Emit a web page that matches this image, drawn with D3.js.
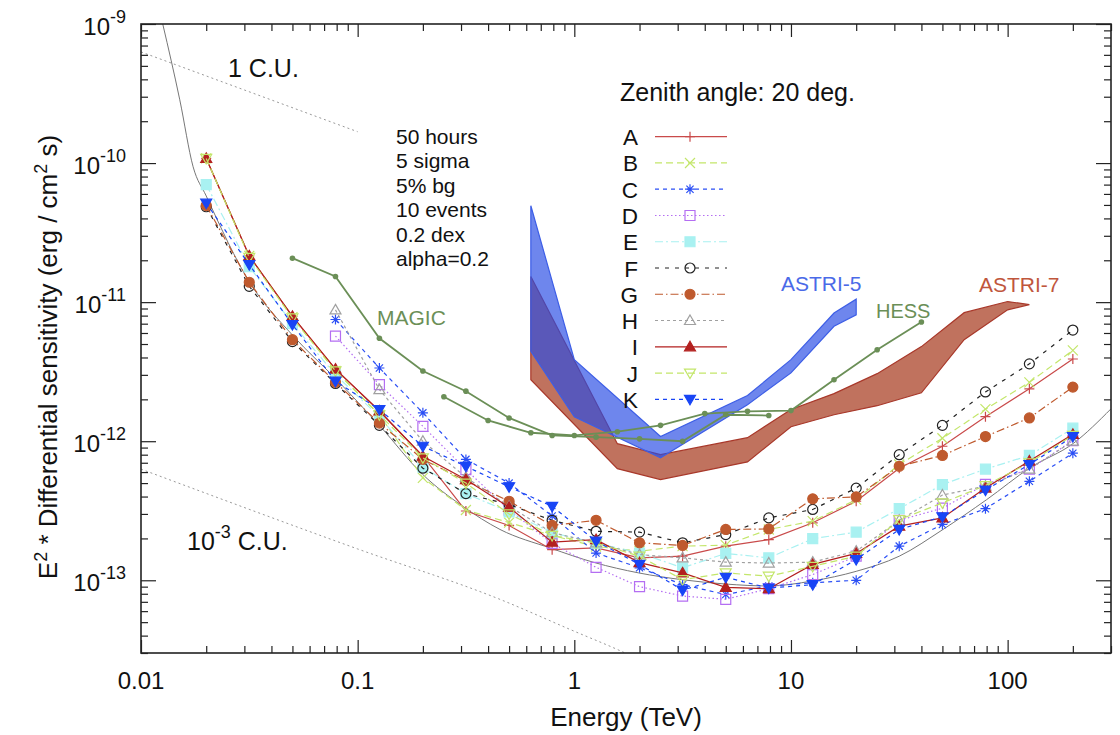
<!DOCTYPE html>
<html>
<head>
<meta charset="utf-8">
<script src="https://cdn.jsdelivr.net/npm/d3@7/dist/d3.min.js"></script>
<style>
body { margin:0; background:#fff; }
text { font-family:"Liberation Sans", Arial, Helvetica, sans-serif; }
</style>
</head>
<body>
<div id="chart"></div>
<script>
// ---------------- data ----------------
var energies = [0.02, 0.0316, 0.05, 0.079, 0.126, 0.2, 0.316, 0.5, 0.79, 1.26, 2, 3.16, 5, 7.9, 12.6, 20, 31.6, 50, 79, 126, 200];

var seriesA = [1.08e-10, 2.15e-11, 7.9e-12, 3.3e-12, 1.65e-12, 7.8e-13, 3.15e-13, 2.48e-13, 1.66e-13, 1.71e-13, 1.45e-13, 1.49e-13, 1.76e-13, 1.96e-13, 2.59e-13, 3.7e-13, 6.4e-13, 9.2e-13, 1.5e-12, 2.38e-12, 3.9e-12];
var seriesB = [1.08e-10, 2.15e-11, 7.8e-12, 3.2e-12, 1.55e-12, 5.45e-13, 3.2e-13, 2.6e-13, 2.1e-13, 1.75e-13, 1.62e-13, 1.76e-13, 1.79e-13, 2.32e-13, 2.66e-13, 3.8e-13, 6.8e-13, 1.05e-12, 1.7e-12, 2.65e-12, 4.5e-12];
var seriesC = [null, null, null, 7.5e-12, 3.36e-12, 1.6e-12, 7.4e-13, 5.0e-13, 2.9e-13, 1.57e-13, 1.23e-13, 9.3e-14, 7.9e-14, 9.1e-14, 9.6e-14, 1.0e-13, 1.76e-13, 2.52e-13, 3.27e-13, 5.15e-13, 8.2e-13];
var seriesD = [null, null, null, 5.7e-12, 2.55e-12, 1.28e-12, 6.25e-13, 3.2e-13, 1.84e-13, 1.24e-13, 9.0e-14, 7.7e-14, 7.3e-14, 8.7e-14, 1.1e-13, 1.49e-13, 2.7e-13, 3.3e-13, 4.9e-13, 6.3e-13, 1.01e-12];
var seriesE = [7e-11, 1.8e-11, 7e-12, 3e-12, 1.5e-12, 6.5e-13, 4.2e-13, 3.1e-13, 2.2e-13, 1.85e-13, 1.57e-13, 1.23e-13, 1.56e-13, 1.45e-13, 1.99e-13, 2.22e-13, 3.27e-13, 4.88e-13, 6.3e-13, 7.9e-13, 1.24e-12];
var seriesF = [4.85e-11, 1.3e-11, 5.2e-12, 2.6e-12, 1.3e-12, 6.4e-13, 4.2e-13, 3.5e-13, 2.7e-13, 2.25e-13, 2.22e-13, 1.86e-13, 2.13e-13, 2.81e-13, 3.23e-13, 4.6e-13, 8.0e-13, 1.3e-12, 2.26e-12, 3.6e-12, 6.3e-12];
var seriesG = [4.95e-11, 1.39e-11, 5.37e-12, 2.65e-12, 1.35e-12, 7.4e-13, 5.2e-13, 3.7e-13, 2.48e-13, 2.7e-13, 1.86e-13, 1.78e-13, 2.32e-13, 2.34e-13, 3.85e-13, 3.98e-13, 6.6e-13, 7.9e-13, 1.08e-12, 1.47e-12, 2.45e-12];
var seriesH = [null, null, null, 8.8e-12, 2.35e-12, 1.0e-12, 5.5e-13, 3.4e-13, 2.2e-13, 1.86e-13, 1.53e-13, 1.45e-13, 1.35e-13, 1.33e-13, 1.35e-13, 1.62e-13, 2.7e-13, 4.1e-13, 4.75e-13, 6.3e-13, 1.0e-12];
var seriesI = [1.08e-10, 2.15e-11, 7.9e-12, 3.3e-12, 1.65e-12, 7.8e-13, 5.3e-13, 3.35e-13, 1.88e-13, 1.96e-13, 1.34e-13, 1.13e-13, 8.9e-14, 8.7e-14, 1.3e-13, 1.56e-13, 2.45e-13, 2.81e-13, 4.6e-13, 7.2e-13, 1.12e-12];
var seriesJ = [1.08e-10, 2.1e-11, 7.7e-12, 3.2e-12, 1.55e-12, 7.6e-13, 5.0e-13, 3.0e-13, 2.1e-13, 1.85e-13, 1.49e-13, 1.01e-13, 1.13e-13, 1.07e-13, 1.26e-13, 1.49e-13, 2.73e-13, 3.6e-13, 4.8e-13, 7.0e-13, 1.1e-12];
var seriesK = [5.15e-11, 1.86e-11, 6.9e-12, 2.7e-12, 1.69e-12, 9.2e-13, 6.6e-13, 4.7e-13, 3.4e-13, 1.91e-13, 1.3e-13, 8.5e-14, 1.05e-13, 8.8e-14, 9.3e-14, 1.41e-13, 2.32e-13, 2.86e-13, 4.45e-13, 6.8e-13, 1.08e-12];

var seriesNames = ['A','B','C','D','E','F','G','H','I','J','K'];

// MAGIC and HESS
var magicE = [0.05, 0.079, 0.126, 0.2, 0.316, 0.5, 0.79, 1.26, 2, 3.16, 5, 7.9];
var magicFlux = [2.07e-11, 1.53e-11, 5.5e-12, 3.2e-12, 2.29e-12, 1.47e-12, 1.1e-12, 1.07e-12, 1.04e-12, 1.0e-12, 1.55e-12, 1.53e-12];
var hessE = [0.25, 0.4, 0.63, 1.0, 1.58, 2.5, 4, 6.3, 10, 15.8, 25, 40];
var hessFlux = [2.09e-12, 1.41e-12, 1.15e-12, 1.1e-12, 1.17e-12, 1.3e-12, 1.58e-12, 1.64e-12, 1.66e-12, 2.77e-12, 4.55e-12, 7.2e-12];

// ASTRI bands
var astri5E = [0.63, 1.0, 2.5, 6.3, 10, 15.8, 20];
var astri5Upper = [4.93e-11, 3.86e-12, 1.08e-12, 2.13e-12, 3.86e-12, 8.35e-12, 1.05e-11];
var astri5Lower = [4.43e-12, 1.5e-12, 7.6e-13, 1.83e-12, 3.1e-12, 6.7e-12, 8.1e-12];
var astri7E = [0.63, 1.58, 2.5, 6.3, 10, 15.8, 25, 40, 63, 100, 126];
var astri7Upper = [1.53e-11, 9.6e-13, 8.0e-13, 1.06e-12, 1.69e-12, 2.2e-12, 3.06e-12, 4.79e-12, 8.4e-12, 1.01e-11, 9.6e-12];
var astri7Lower = [2.77e-12, 6.35e-13, 5.3e-13, 7.1e-13, 1.27e-12, 1.55e-12, 1.8e-12, 2.23e-12, 5.37e-12, 8.8e-12, 9.6e-12];

// thin grey reference curve
var curveE = [0.0126, 0.0151, 0.0174, 0.02, 0.0318, 0.0505, 0.08, 0.127, 0.2, 0.306, 0.454, 0.78, 1.24, 1.98, 3.14, 4.98, 7.9, 12.6, 20, 31.6, 50.3, 80, 127, 202, 300];
var curveFlux = [1e-9, 2.85e-10, 9.4e-11, 5.8e-11, 1.38e-11, 5.7e-12, 2.77e-12, 1.28e-12, 5.75e-13, 3.4e-13, 2.32e-13, 1.7e-13, 1.34e-13, 1.13e-13, 1.01e-13, 9.4e-14, 9.1e-14, 9.9e-14, 1.16e-13, 1.49e-13, 2.32e-13, 3.8e-13, 6.45e-13, 9.7e-13, 1.71e-12];

// Crab unit
var crabE = [0.01, 0.1, 0.455, 1.0, 1.58, 3];
var crabFlux = [6.3e-10, 1.68e-10, 7.28e-11, 4.3e-11, 3.18e-11, 1.97e-11];

var infoLines = ['50 hours', '5 sigma', '5% bg', '10 events', '0.2 dex', 'alpha=0.2'];
var xTickLabels = [0.01, 0.1, 1, 10, 100];
var yTickExps = [-9, -10, -11, -12, -13];

// ---------------- styles ----------------
var styles = {
	A: {color:'#c94a4a', dash:null, marker:'plus'},
	B: {color:'#c3e66a', dash:'7,4', marker:'cross'},
	C: {color:'#2b4ff5', dash:'4,4', marker:'star'},
	D: {color:'#b46ef2', dash:'1.5,2.5', marker:'square'},
	E: {color:'#a9f1f1', dash:'8,3,2,3', marker:'squareFilled'},
	F: {color:'#222222', dash:'4,6', marker:'circle'},
	G: {color:'#bf5a2e', dash:'8,3,1.5,3', marker:'circleFilled'},
	H: {color:'#a0a0a0', dash:'3,3', marker:'triangle'},
	I: {color:'#b3201f', dash:null, marker:'triangleFilled'},
	J: {color:'#c3e66a', dash:'7,4', marker:'triangleDown'},
	K: {color:'#1845f5', dash:'4,4', marker:'triangleDownFilled'}
};

var svgWidth = 1120, svgHeight = 735;
var plot = {l:141, r:1111, t:24, b:653};

var svg = d3.select('#chart').append('svg')
	.attr('width', svgWidth)
	.attr('height', svgHeight)
	.style('background', '#fff');

var x = d3.scaleLog().domain([0.01, 300]).range([plot.l, plot.r]);
var y = d3.scaleLog().domain([3e-14, 1e-9]).range([plot.b, plot.t]);

svg.append('defs').append('clipPath').attr('id', 'clip')
	.append('rect').attr('x', plot.l).attr('y', plot.t)
	.attr('width', plot.r - plot.l).attr('height', plot.b - plot.t);

var plotArea = svg.append('g').attr('clip-path', 'url(#clip)');

function pts(es, vs) {
	return es.map((e, i) => [e, vs[i]]);
}

// crab unit lines
var crabLine = d3.line().x(d => x(d[0])).y(d => y(d[1])).curve(d3.curveMonotoneX);
plotArea.append('path')
	.attr('d', crabLine(pts(crabE.slice(0, 2), crabFlux.slice(0, 2))))
	.attr('fill', 'none').attr('stroke', '#999').attr('stroke-width', 1).attr('stroke-dasharray', '2,3');
plotArea.append('path')
	.attr('d', crabLine(pts(crabE, crabFlux.map(v => v * 1e-3))))
	.attr('fill', 'none').attr('stroke', '#999').attr('stroke-width', 1).attr('stroke-dasharray', '2,3');

// bands
function band(es, up, lo) {
	var p = es.map((e, i) => [x(e), y(up[i])]);
	var q = es.map((e, i) => [x(e), y(lo[i])]).reverse();
	return 'M' + p.concat(q).map(c => c.join(',')).join('L') + 'Z';
}
plotArea.append('path')
	.attr('d', band(astri7E, astri7Upper, astri7Lower))
	.attr('fill', '#bb6650').attr('fill-opacity', 0.92)
	.attr('stroke', '#a8382a').attr('stroke-width', 1.2);
plotArea.append('path')
	.attr('d', band(astri5E, astri5Upper, astri5Lower))
	.attr('fill', '#2a4ce4').attr('fill-opacity', 0.68)
	.attr('stroke', '#3d5ee6').attr('stroke-width', 1.2);

// grey curve
plotArea.append('path')
	.attr('d', d3.line().x(d => x(d[0])).y(d => y(d[1])).curve(d3.curveMonotoneX)(pts(curveE, curveFlux)))
	.attr('fill', 'none').attr('stroke', '#777').attr('stroke-width', 1);

// markers
function markerPath(type) {
	var s = 5;
	switch (type) {
		case 'plus': return `M${-s},0H${s}M0,${-s}V${s}`;
		case 'cross': return `M${-s},${-s}L${s},${s}M${-s},${s}L${s},${-s}`;
		case 'star': return `M${-s},0H${s}M0,${-s}V${s}M${-3.6},${-3.6}L3.6,3.6M${-3.6},3.6L3.6,${-3.6}`;
		case 'square': case 'squareFilled': return `M${-s},${-s}H${s}V${s}H${-s}Z`;
		case 'circle': case 'circleFilled': return d3.symbol(d3.symbolCircle, Math.PI * 25)();
		case 'triangle': case 'triangleFilled': return 'M0,-5.5L5.5,4L-5.5,4Z';
		case 'triangleDown': case 'triangleDownFilled': return 'M0,5.5L5.5,-4L-5.5,-4Z';
	}
}
function isFilled(type) { return /Filled/.test(type); }

function drawMarker(g, type, color, cx, cy) {
	g.append('path')
		.attr('d', markerPath(type))
		.attr('transform', `translate(${cx},${cy})`)
		.attr('fill', isFilled(type) ? color : 'none')
		.attr('stroke', color)
		.attr('stroke-width', 1.2);
}

var seriesData = {A:seriesA, B:seriesB, C:seriesC, D:seriesD, E:seriesE, F:seriesF, G:seriesG, H:seriesH, I:seriesI, J:seriesJ, K:seriesK};

var seriesLine = d3.line()
	.defined(d => d[1] != null)
	.x(d => x(d[0]))
	.y(d => y(d[1]));

seriesNames.forEach(name => {
	var st = styles[name];
	var data = pts(energies, seriesData[name]);
	var g = plotArea.append('g');
	g.append('path')
		.attr('d', seriesLine(data))
		.attr('fill', 'none')
		.attr('stroke', st.color)
		.attr('stroke-width', 1.2)
		.attr('stroke-dasharray', st.dash);
	data.filter(d => d[1] != null).forEach(d => {
		drawMarker(g, st.marker, st.color, x(d[0]), y(d[1]));
	});
});

// MAGIC / HESS
var green = '#6b8f57';
[[magicE, magicFlux], [hessE, hessFlux]].forEach(s => {
	var data = pts(s[0], s[1]);
	plotArea.append('path')
		.attr('d', seriesLine(data))
		.attr('fill', 'none').attr('stroke', green).attr('stroke-width', 1.8);
	plotArea.selectAll(null).data(data).enter().append('circle')
		.attr('cx', d => x(d[0])).attr('cy', d => y(d[1])).attr('r', 2.8)
		.attr('fill', green);
});

// ---------------- axes ----------------
var xMajor = [0.01, 0.1, 1, 10, 100];
var xMinor = [];
[0.01, 0.1, 1, 10, 100].forEach(d => { for (var k = 2; k <= 9; k++) if (k * d <= 300) xMinor.push(k * d); });
var yMajor = [1e-13, 1e-12, 1e-11, 1e-10, 1e-9];
var yMinor = [];
[1e-14, 1e-13, 1e-12, 1e-11, 1e-10].forEach(d => { for (var k = 2; k <= 9; k++) if (k * d >= 3e-14) yMinor.push(k * d); });

function styleAxis(g) {
	g.select('.domain').remove();
	g.selectAll('line').attr('stroke', '#222').attr('stroke-width', 1.2);
	g.selectAll('text').remove();
}

svg.append('g').attr('transform', `translate(0,${plot.b})`)
	.call(d3.axisBottom(x).tickValues(xMajor).tickSize(-13)).call(styleAxis);
svg.append('g').attr('transform', `translate(0,${plot.b})`)
	.call(d3.axisBottom(x).tickValues(xMinor).tickSize(-7)).call(styleAxis);
svg.append('g').attr('transform', `translate(0,${plot.t})`)
	.call(d3.axisTop(x).tickValues(xMajor).tickSize(-13)).call(styleAxis);
svg.append('g').attr('transform', `translate(0,${plot.t})`)
	.call(d3.axisTop(x).tickValues(xMinor).tickSize(-7)).call(styleAxis);
svg.append('g').attr('transform', `translate(${plot.l},0)`)
	.call(d3.axisLeft(y).tickValues(yMajor).tickSize(-15)).call(styleAxis);
svg.append('g').attr('transform', `translate(${plot.l},0)`)
	.call(d3.axisLeft(y).tickValues(yMinor).tickSize(-7)).call(styleAxis);
svg.append('g').attr('transform', `translate(${plot.r},0)`)
	.call(d3.axisRight(y).tickValues(yMajor).tickSize(-15)).call(styleAxis);
svg.append('g').attr('transform', `translate(${plot.r},0)`)
	.call(d3.axisRight(y).tickValues(yMinor).tickSize(-7)).call(styleAxis);

svg.append('rect')
	.attr('x', plot.l).attr('y', plot.t)
	.attr('width', plot.r - plot.l).attr('height', plot.b - plot.t)
	.attr('fill', 'none').attr('stroke', '#222').attr('stroke-width', 1.6);

// tick labels
svg.selectAll('.xlab').data(xTickLabels).enter().append('text')
	.attr('x', d => x(d)).attr('y', 689)
	.attr('text-anchor', 'middle')
	.attr('font-size', 24)
	.attr('fill', '#111')
	.text(d => d);

yTickExps.forEach(e => {
	var t = svg.append('text')
		.attr('x', 126).attr('y', y(Math.pow(10, e)) + 11)
		.attr('text-anchor', 'end')
		.attr('font-size', 24)
		.attr('fill', '#111');
	t.append('tspan').text('10');
	t.append('tspan').attr('dy', -12).attr('font-size', 18).text(e);
});

// axis titles
svg.append('text')
	.attr('x', (plot.l + plot.r) / 2).attr('y', 726)
	.attr('text-anchor', 'middle').attr('font-size', 26).attr('fill', '#111')
	.text('Energy (TeV)');

var yt = svg.append('text')
	.attr('transform', 'translate(57,357)rotate(-90)')
	.attr('text-anchor', 'middle').attr('font-size', 26).attr('fill', '#111');
yt.append('tspan').text('E');
yt.append('tspan').attr('dy', -10).attr('font-size', 18).text('2');
yt.append('tspan').attr('dy', 10).text(' * Differential sensitivity (erg / cm');
yt.append('tspan').attr('dy', -10).attr('font-size', 18).text('2');
yt.append('tspan').attr('dy', 10).text(' s)');

// annotations
svg.append('text').attr('x', 228).attr('y', 77).attr('font-size', 25).attr('fill', '#111').text('1 C.U.');
var cu3 = svg.append('text').attr('x', 187).attr('y', 550).attr('font-size', 25).attr('fill', '#111');
cu3.append('tspan').text('10');
cu3.append('tspan').attr('dy', -12).attr('font-size', 18).text('-3');
cu3.append('tspan').attr('dy', 12).text(' C.U.');

svg.selectAll('.info').data(infoLines).enter().append('text')
	.attr('x', 396).attr('y', (d, i) => 144 + i * 24.4)
	.attr('font-size', 21).attr('fill', '#111')
	.text(d => d);

svg.append('text').attr('x', 377).attr('y', 325).attr('font-size', 21).attr('fill', green).text('MAGIC');
svg.append('text').attr('x', 876).attr('y', 318).attr('font-size', 20).attr('fill', green).text('HESS');
svg.append('text').attr('x', 781).attr('y', 291).attr('font-size', 21).attr('fill', '#4a6ae8').text('ASTRI-5');
svg.append('text').attr('x', 979).attr('y', 292).attr('font-size', 21).attr('fill', '#c0563c').text('ASTRI-7');

// legend
svg.append('text').attr('x', 620).attr('y', 101).attr('font-size', 25).attr('fill', '#111').text('Zenith angle: 20 deg.');

var legend = svg.append('g');
seriesNames.forEach((name, i) => {
	var st = styles[name];
	var cy = 136.7 + i * 26.26;
	legend.append('text')
		.attr('x', 638).attr('y', cy + 8.5)
		.attr('text-anchor', 'end')
		.attr('font-size', 22.5).attr('fill', '#111')
		.text(name);
	legend.append('line')
		.attr('x1', 655).attr('x2', 727).attr('y1', cy).attr('y2', cy)
		.attr('stroke', st.color).attr('stroke-width', 1.2)
		.attr('stroke-dasharray', st.dash);
	drawMarker(legend, st.marker, st.color, 690, cy);
});
</script>
</body>
</html>
